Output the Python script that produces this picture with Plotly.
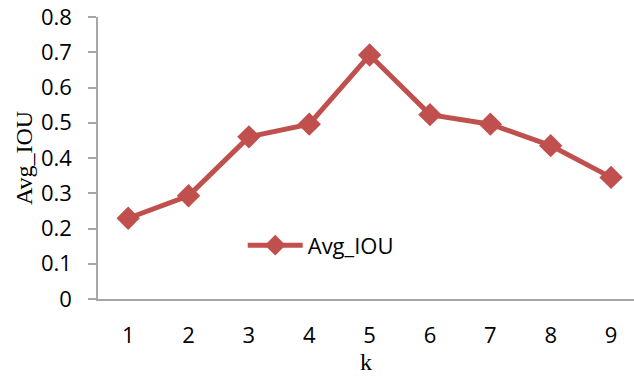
import plotly.graph_objects as go

# Average IoU for each k
k_values = [1, 2, 3, 4, 5, 6, 7, 8, 9]
avg_iou = [0.229, 0.293, 0.460, 0.496, 0.692, 0.523, 0.496, 0.435, 0.345]
y_ticks = [0, 0.1, 0.2, 0.3, 0.4, 0.5, 0.6, 0.7, 0.8]
y_tick_text = ["0", "0.1", "0.2", "0.3", "0.4", "0.5", "0.6", "0.7", "0.8"]

RED = "#C0504D"
AXIS = "#A6A6A6"
SANS = "'Open Sans', Lato, sans-serif"
SERIF = "'Liberation Serif', 'Times New Roman', serif"
TICK_FONT = dict(family=SANS, size=22, color="black")

fig = go.Figure()
fig.add_trace(go.Scatter(
    x=k_values, y=avg_iou, mode="lines+markers", name="Avg_IOU",
    line=dict(color=RED, width=5),
    marker=dict(symbol="diamond", size=18, color=RED),
))

fig.update_layout(
    width=634, height=379,
    margin=dict(l=98, r=0, t=17, b=80),
    paper_bgcolor="white", plot_bgcolor="white",
    font=dict(family=SANS, size=22, color="black"),
    showlegend=True,
    legend=dict(x=0.27, y=0.19, xanchor="left", yanchor="middle",
                bgcolor="rgba(0,0,0,0)", font=TICK_FONT,
                itemwidth=55),
    xaxis=dict(
        range=[0.5, 9.38], tickmode="array", tickvals=k_values,
        ticktext=[str(v) for v in k_values], tickfont=TICK_FONT,
        showgrid=False, zeroline=False, showline=True, linecolor=AXIS,
        linewidth=1.5, ticks="", ticklabelstandoff=16,
        title=dict(text="k", font=dict(family=SERIF, size=24), standoff=0),
    ),
    yaxis=dict(
        range=[0, 0.8], tickmode="array", tickvals=y_ticks,
        ticktext=y_tick_text, tickfont=TICK_FONT,
        showgrid=False, zeroline=False, showline=True, linecolor=AXIS,
        linewidth=1.5, ticks="outside", ticklen=8, tickcolor=AXIS,
        tickwidth=1.5, ticklabelstandoff=12,
        title=dict(text="Avg_IOU", font=dict(family=SERIF, size=24),
                   standoff=2),
    ),
)

fig.write_html("out.html")
